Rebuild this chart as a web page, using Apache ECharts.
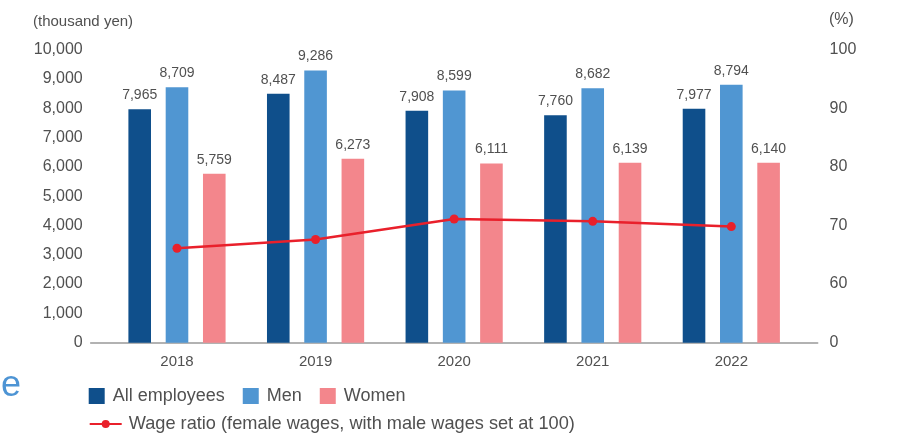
<!DOCTYPE html>
<html>
<head>
<meta charset="utf-8">
<script src="https://cdn.jsdelivr.net/npm/echarts@6/dist/echarts.min.js"></script>
<style>html,body{margin:0;padding:0;background:#fff}#c{width:900px;height:436px}</style>
</head>
<body>
<div id="c"></div>
<script>
const years = ['2018', '2019', '2020', '2021', '2022'];
const allEmployees = [7965, 8487, 7908, 7760, 7977];
const men = [8709, 9286, 8599, 8682, 8794];
const women = [5759, 6273, 6111, 6139, 6140];
const wageRatio = [66.1, 67.6, 71.1, 70.7, 69.8];
const leftTicks = [0, 1000, 2000, 3000, 4000, 5000, 6000, 7000, 8000, 9000, 10000];
const rightTickLabels = {50: '0', 60: '60', 70: '70', 80: '80', 90: '90', 100: '100'};

const FONT = '"Liberation Sans", Arial, sans-serif';
const TXT = '#505050';
const chart = echarts.init(document.getElementById('c'), null, {renderer: 'canvas'});

const lbl = {
  show: true, position: 'top', distance: 7, color: TXT, fontSize: 14, fontFamily: FONT,
  formatter: p => p.value.toLocaleString('en-US')
};

chart.setOption({
  animation: false,
  textStyle: {fontFamily: FONT},
  grid: [
    {left: 107.7, right: 99.4, top: 49.5, bottom: 93.3},
    {left: 90.7, right: 82.3, top: 49.5, bottom: 93.3}
  ],
  xAxis: [
    {type: 'category', data: years, gridIndex: 0,
     axisLine: {show: false}, axisTick: {show: false},
     axisLabel: {color: TXT, fontSize: 15, margin: 12, fontFamily: FONT}},
    {type: 'value', gridIndex: 1, min: 0, max: 1,
     axisLine: {show: true, onZero: false, lineStyle: {color: '#999', width: 1.5}},
     axisTick: {show: false}, axisLabel: {show: false}, splitLine: {show: false}}
  ],
  yAxis: [
    {type: 'value', gridIndex: 0, min: leftTicks[0], max: leftTicks[leftTicks.length - 1], interval: 1000,
     axisLine: {show: false}, axisTick: {show: false}, splitLine: {show: false},
     axisLabel: {color: TXT, fontSize: 16, margin: 25, fontFamily: FONT,
       formatter: v => v.toLocaleString('en-US')}},
    {type: 'value', gridIndex: 0, position: 'right', min: 50, max: 100, interval: 10,
     axisLine: {show: false}, axisTick: {show: false}, splitLine: {show: false},
     axisLabel: {color: TXT, fontSize: 16, margin: 29, align: 'left', fontFamily: FONT,
       formatter: v => rightTickLabels[v] !== undefined ? rightTickLabels[v] : ''}},
    {type: 'value', gridIndex: 1, show: false}
  ],
  legend: [
    {data: ['All employees', 'Men', 'Women'], left: 88.7, top: 387, padding: 0,
     itemWidth: 16, itemHeight: 16, itemGap: 18, icon: 'rect', orient: 'horizontal',
     textStyle: {color: TXT, fontSize: 18, fontFamily: FONT, padding: [0, 0, 0, 3]}},
    {data: ['Wage ratio (female wages, with male wages set at 100)'], left: 88.7, top: 415, padding: 0,
     itemWidth: 32, itemHeight: 10,
     textStyle: {color: TXT, fontSize: 18.2, fontFamily: FONT, padding: [0, 0, 0, 2]}}
  ],
  graphic: [
    {type: 'text', left: 33, top: 14, style: {text: '(thousand yen)', fill: TXT, font: '15px ' + FONT}},
    {type: 'text', left: 829, top: 12, style: {text: '(%)', fill: TXT, font: '16px ' + FONT}},
    {type: 'text', left: 1, top: 368, style: {text: 'e', fill: '#4d94d4', font: '36px ' + FONT}}
  ],
  series: [
    {name: 'All employees', type: 'bar', data: allEmployees, barWidth: 22.6, barGap: '65%',
     itemStyle: {color: '#0f4f8b'}, label: lbl},
    {name: 'Men', type: 'bar', data: men, barWidth: 22.6, barGap: '65%',
     itemStyle: {color: '#5096d2'}, label: lbl},
    {name: 'Women', type: 'bar', data: women, barWidth: 22.6, barGap: '65%',
     itemStyle: {color: '#f3868c'}, label: lbl},
    {name: 'Wage ratio (female wages, with male wages set at 100)', type: 'line', yAxisIndex: 1,
     data: wageRatio, symbol: 'circle', symbolSize: 9, z: 5,
     lineStyle: {color: '#e9202b', width: 2.5}, itemStyle: {color: '#e9202b'}}
  ]
});
</script>
</body>
</html>
